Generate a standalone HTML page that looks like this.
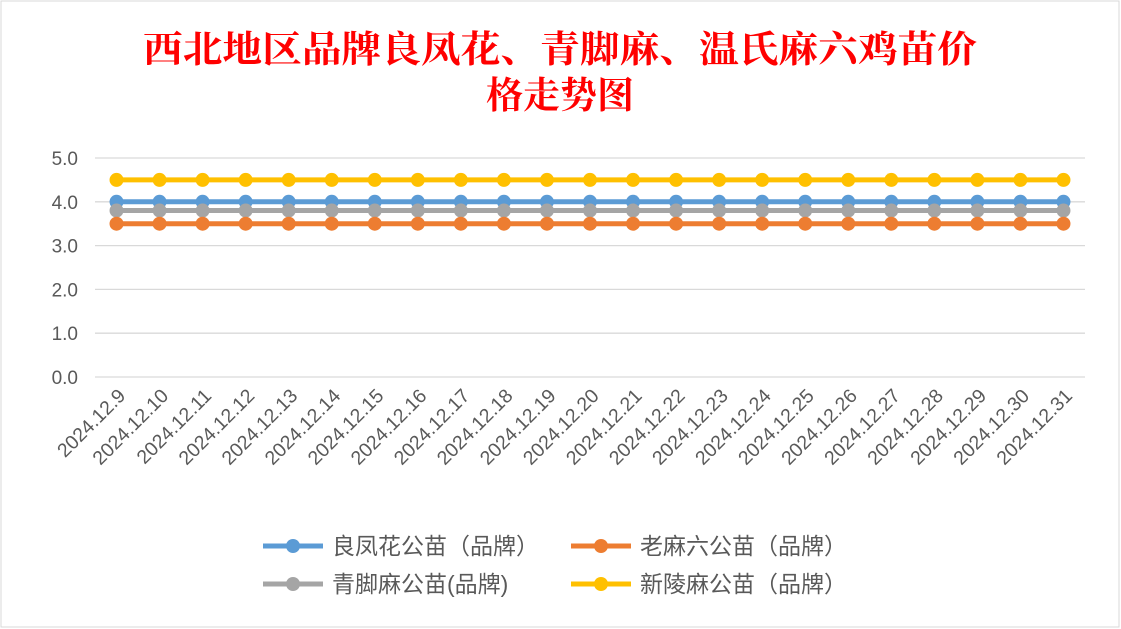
<!DOCTYPE html>
<html><head><meta charset="utf-8"><style>
body{margin:0;background:#fff;width:1121px;height:629px;overflow:hidden}
svg{display:block;font-family:"Liberation Sans","Noto Sans CJK SC",sans-serif}
</style></head><body>
<svg id="c" width="1121" height="629">
<rect x="1" y="1" width="1118" height="626" fill="#fff" stroke="#d9d9d9"/>
<text x="560" y="62" text-anchor="middle" font-size="37" font-weight="bold" fill="#ff0000" font-family="'Noto Serif CJK SC',serif" textLength="834" lengthAdjust="spacingAndGlyphs">西北地区品牌良凤花、青脚麻、温氏麻六鸡苗价</text>
<text x="560" y="108" text-anchor="middle" font-size="37" font-weight="bold" fill="#ff0000" font-family="'Noto Serif CJK SC',serif">格走势图</text>
<g id="grid"></g><g id="xl"></g><g id="series"></g><g id="legend"></g>
</svg>
<script>
const categories=["2024.12.9","2024.12.10","2024.12.11","2024.12.12","2024.12.13","2024.12.14","2024.12.15","2024.12.16","2024.12.17","2024.12.18","2024.12.19","2024.12.20","2024.12.21","2024.12.22","2024.12.23","2024.12.24","2024.12.25","2024.12.26","2024.12.27","2024.12.28","2024.12.29","2024.12.30","2024.12.31"];
const liangfenghua=[4,4,4,4,4,4,4,4,4,4,4,4,4,4,4,4,4,4,4,4,4,4,4];
const qingjiaoma=[3.8,3.8,3.8,3.8,3.8,3.8,3.8,3.8,3.8,3.8,3.8,3.8,3.8,3.8,3.8,3.8,3.8,3.8,3.8,3.8,3.8,3.8,3.8];
const laomaliu=[3.5,3.5,3.5,3.5,3.5,3.5,3.5,3.5,3.5,3.5,3.5,3.5,3.5,3.5,3.5,3.5,3.5,3.5,3.5,3.5,3.5,3.5,3.5];
const xinlingma=[4.5,4.5,4.5,4.5,4.5,4.5,4.5,4.5,4.5,4.5,4.5,4.5,4.5,4.5,4.5,4.5,4.5,4.5,4.5,4.5,4.5,4.5,4.5];
const yTicks=[0,1,2,3,4,5];
const yTickLabels=["0.0","1.0","2.0","3.0","4.0","5.0"];
const NS="http://www.w3.org/2000/svg";
const x0=95,x1=1085,yb=377,yt=158,ymax=5;
const step=(x1-x0)/categories.length;
const X=i=>x0+step*(i+0.5);
const Y=v=>yb-(v/ymax)*(yb-yt);
function mk(t,a,p){const e=document.createElementNS(NS,t);for(const k in a)e.setAttribute(k,a[k]);p.appendChild(e);return e;}
const grid=document.getElementById('grid');
yTicks.forEach((v,i)=>{
 const l=mk('line',{x1:x0,x2:x1,y1:Y(v),y2:Y(v),stroke:'#d9d9d9','stroke-width':1.3},grid);
 
 
 const t=mk('text',{x:78,y:Y(v)+7,'text-anchor':'end','font-size':19,fill:'#595959'},grid);
 t.textContent=yTickLabels[i];
 
 
});
const xl=document.getElementById('xl');
categories.forEach((c,i)=>{
 const ax=X(i)+10,ay=397;
 const t=mk('text',{x:ax,y:ay,'text-anchor':'end','font-size':19.5,fill:'#595959',transform:`rotate(-45 ${ax} ${ay})`},xl);
 t.textContent=c;
 
 
});
const series=[
 {name:'良凤花公苗（品牌）',data:liangfenghua,color:'#5b9bd5'},
 {name:'青脚麻公苗(品牌)',data:qingjiaoma,color:'#a5a5a5'},
 {name:'老麻六公苗（品牌）',data:laomaliu,color:'#ed7d31'},
 {name:'新陵麻公苗（品牌）',data:xinlingma,color:'#ffc000'}
];
const sg=document.getElementById('series');
series.forEach((s,si)=>{
 const g=mk('g',{},sg);
 
 
 const p=mk('polyline',{points:s.data.map((v,i)=>X(i)+','+Y(v)).join(' '),fill:'none',stroke:s.color,'stroke-width':5},g);
 
 
 s.data.forEach((v,i)=>{
  const c=mk('circle',{cx:X(i),cy:Y(v),r:7,fill:s.color},g);
  
  
 });
});
const lg=document.getElementById('legend');
const lp=[[0,263,546],[2,571,546],[1,263,584],[3,571,584]];
lp.forEach(([si,x,y])=>{
 const s=series[si];
 const g=mk('g',{},lg);
 
 
 mk('line',{x1:x,x2:x+60,y1:y,y2:y,stroke:s.color,'stroke-width':5},g);
 mk('circle',{cx:x+30,cy:y,r:7,fill:s.color},g);
 const t=mk('text',{x:x+69,y:y+8,'font-size':23,fill:'#595959'},g);
 t.textContent=s.name;
});
</script>
</body></html>
